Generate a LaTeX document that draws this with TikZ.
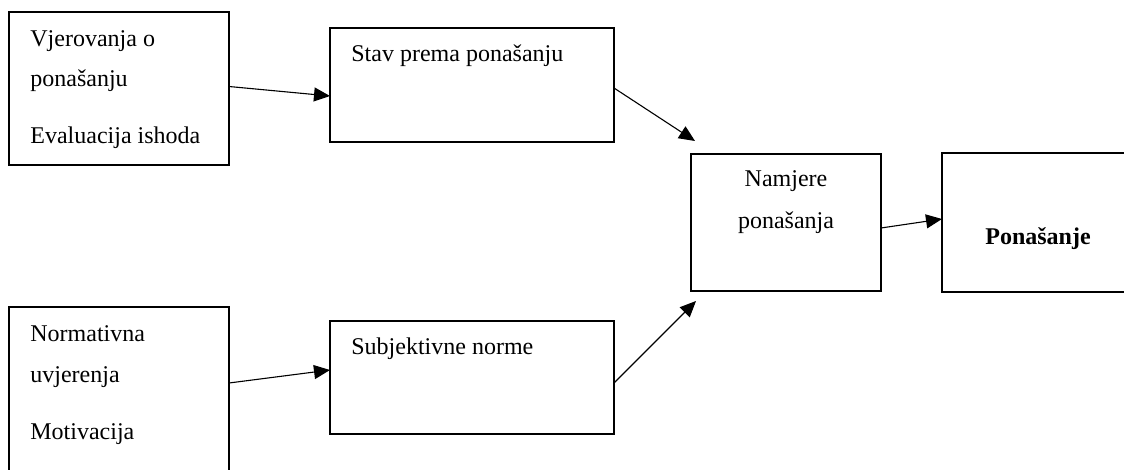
\documentclass[tikz,border=0pt]{standalone}
\usepackage{fontspec}
\setmainfont{Liberation Serif}
\usetikzlibrary{arrows.meta}
\begin{document}
\begin{tikzpicture}[x=0.5pt,y=-0.5pt,
  box/.style={draw,line width=0.9pt,inner sep=0pt,outer sep=0pt,anchor=north west},
  txt/.style={inner sep=0pt,font=\fontsize{12pt}{14pt}\selectfont},
  arr/.style={line width=0.55pt,-{Triangle[length=8pt,width=7pt]}}]
\useasboundingbox (0,0) rectangle (1124,470);
\clip (0,0) rectangle (1124,470);
% boxes
\node[box,minimum width=110pt,minimum height=76.5pt] (b1) at (9,12) {};
\node[box,minimum width=142pt,minimum height=57pt] (b2) at (330,28) {};
\node[box,minimum width=95pt,minimum height=68.5pt] (b3) at (691,154) {};
\node[box,minimum width=96pt,minimum height=69.5pt] (b4) at (942,153) {};
\node[box,minimum width=110pt,minimum height=86.5pt] (b5) at (9,307) {};
\node[box,minimum width=142pt,minimum height=56.5pt] (b6) at (330,321) {};
% texts
\node[txt,anchor=base west] (t1a) at (30,47) {Vjerovanja o};
\node[txt,anchor=base west] (t1b) at (30,87) {ponašanju};
\node[txt,anchor=base west] (t1c) at (30,144) {Evaluacija ishoda};
\node[txt,anchor=base west] (t2) at (351,62) {Stav prema ponašanju};
\node[txt,anchor=base] (t3a) at (786,187) {Namjere};
\node[txt,anchor=base] (t3b) at (786,229) {ponašanja};
\node[txt,anchor=base,font=\fontsize{12pt}{14pt}\selectfont\bfseries] (t4) at (1038,245) {Ponašanje};
\node[txt,anchor=base west] (t5a) at (30,342) {Normativna};
\node[txt,anchor=base west] (t5b) at (30,382) {uvjerenja};
\node[txt,anchor=base west] (t5c) at (30,439) {Motivacija};
\node[txt,anchor=base west] (t6) at (351,354) {Subjektivne norme};
% arrow end points
\coordinate (p23) at ([shift={(2pt,6.5pt)}]b3.north west);
\coordinate (p63) at ([shift={(2.5pt,-5pt)}]b3.south west);
% connectors
\draw[arr] ([yshift=1pt]b1.east) -- ([yshift=-5.5pt]b2.west);
\draw[arr] ([yshift=-1.5pt]b2.east) -- (p23);
\draw[arr] ([yshift=-2.75pt]b6.east) -- (p63);
\draw[arr] ([yshift=-2.75pt]b3.east) -- ([yshift=1.75pt]b4.west);
\draw[arr] ([yshift=5.25pt]b5.east) -- ([yshift=3.75pt]b6.west);
\end{tikzpicture}
\end{document}
